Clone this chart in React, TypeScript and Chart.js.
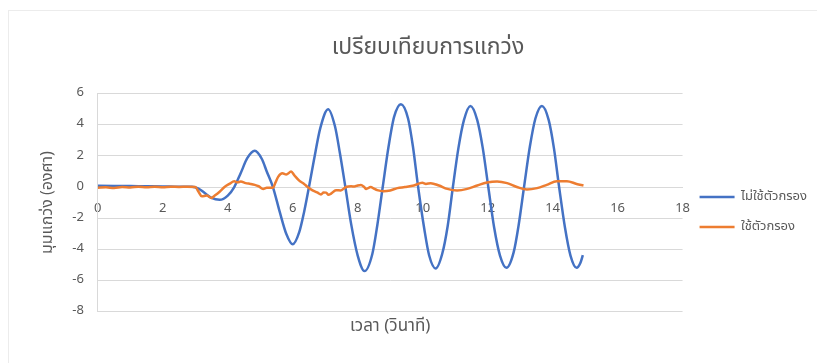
import React, { useEffect, useRef } from "react";
import { Chart, registerables } from "chart.js";

Chart.register(...registerables);

const chartTitle = "เปรียบเทียบการแกว่ง";
const xAxisTitle = "เวลา (วินาที)";
const yAxisTitle = "มุมแกว่ง (องศา)";
const seriesNames = ["ไม่ใช้ตัวกรอง", "ใช้ตัวกรอง"];
const seriesColors = ["#4472C4", "#ED7D31"];

const xTicks = [0, 2, 4, 6, 8, 10, 12, 14, 16, 18];
const yTicks = [-8, -6, -4, -2, 0, 2, 4, 6];

const unfilteredTime = [
  0, 0.5, 1, 1.5, 2, 2.5, 2.9, 3.1, 3.3, 3.5, 3.75, 4.0, 4.2, 4.4, 4.6, 4.83,
  5.05, 5.2, 5.39, 5.6, 5.8, 6.0, 6.2, 6.35, 6.5, 6.65, 6.85, 7.09, 7.3, 7.45,
  7.62, 7.8, 8.0, 8.21, 8.45, 8.6, 8.77, 8.95, 9.12, 9.33, 9.55, 9.7, 9.86,
  10.05, 10.2, 10.4, 10.6, 10.77, 10.93, 11.1, 11.27, 11.47, 11.68, 11.85,
  12.02, 12.2, 12.38, 12.58, 12.8, 12.95, 13.12, 13.3, 13.47, 13.67, 13.88,
  14.04, 14.2, 14.38, 14.55, 14.74, 14.85, 14.93,
];
const unfilteredAngle = [
  0.08, 0.07, 0.06, 0.05, 0.04, 0.02, 0.02, -0.1, -0.4, -0.7, -0.82, -0.55, 0,
  0.9, 1.85, 2.33, 1.8, 1.0, 0, -1.6, -3.0, -3.68, -2.9, -1.6, 0, 1.7, 3.8, 5.0,
  3.9, 2.2, 0, -2.4, -4.4, -5.4, -4.3, -2.5, 0, 2.6, 4.5, 5.32, 4.4, 2.6, 0,
  -2.7, -4.4, -5.23, -4.3, -2.5, 0, 2.5, 4.3, 5.21, 4.3, 2.5, 0, -2.6, -4.4,
  -5.19, -4.2, -2.5, 0, 2.6, 4.4, 5.21, 4.3, 2.5, 0, -2.6, -4.4, -5.19, -4.9,
  -4.38,
];

const filteredTime = [
  0, 0.25, 0.5, 0.75, 1.0, 1.25, 1.5, 1.75, 2.0, 2.25, 2.5, 2.75, 3.0, 3.1, 3.2,
  3.35, 3.5, 3.6, 3.75, 3.9, 4.05, 4.2, 4.3, 4.4, 4.55, 4.7, 4.83, 4.95, 5.09,
  5.2, 5.39, 5.47, 5.55, 5.68, 5.8, 5.95, 6.05, 6.2, 6.35, 6.46, 6.61, 6.75,
  6.87, 6.95, 7.03, 7.1, 7.18, 7.33, 7.48, 7.64, 7.8, 7.9, 8.0, 8.1, 8.2, 8.26,
  8.4, 8.5, 8.6, 8.8, 9.0, 9.22, 9.45, 9.73, 9.99, 10.1, 10.25, 10.5, 10.76,
  11.06, 11.37, 11.68, 11.98, 12.29, 12.6, 12.9, 13.21, 13.52, 13.82, 14.13,
  14.44, 14.74, 14.95,
];
const filteredAngle = [
  -0.05, -0.02, -0.06, 0.0, -0.03, 0.02, -0.02, 0.01, -0.02, 0.02, 0.0, 0.02,
  0.0, -0.3, -0.6, -0.55, -0.7, -0.55, -0.3, 0.0, 0.2, 0.37, 0.3, 0.35, 0.25,
  0.2, 0.14, 0.05, -0.12, -0.05, -0.05, 0.3, 0.65, 0.88, 0.8, 0.99, 0.75, 0.41,
  0.2, 0.0, -0.22, -0.35, -0.48, -0.35, -0.36, -0.5, -0.42, -0.2, -0.22, 0.0,
  0.05, 0.03, 0.1, 0.13, 0.0, -0.12, 0.0, -0.1, -0.2, -0.27, -0.22, -0.07, 0.0,
  0.1, 0.27, 0.2, 0.25, 0.1, -0.12, -0.22, -0.12, 0.1, 0.29, 0.36, 0.25, 0.0,
  -0.16, -0.07, 0.14, 0.37, 0.37, 0.2, 0.1,
];

const FONT = "'Noto Sans Thai', 'Leelawadee UI', Tahoma, 'Noto Sans', 'DejaVu Sans', sans-serif";
const TEXT = "#595959";
const GRID = "#d9d9d9";

const frame = {
  id: "frame",
  beforeDraw(chart: any) {
    const ctx = chart.ctx;
    ctx.save();
    ctx.strokeStyle = "#ececec";
    ctx.lineWidth = 1;
    ctx.strokeRect(8.5, 10.5, 900, 400);
    ctx.restore();
  },
};

export default function App() {
  const ref = useRef<HTMLCanvasElement | null>(null);
  useEffect(() => {
    if (!ref.current) return;
    const chart = new Chart(ref.current, {
      type: "scatter",
      data: {
        datasets: [
          {
            label: seriesNames[0],
            data: unfilteredTime.map((t, i) => ({ x: t, y: unfilteredAngle[i] })),
            borderColor: seriesColors[0],
            backgroundColor: seriesColors[0],
            borderWidth: 2.5,
            showLine: true,
            pointRadius: 0,
            cubicInterpolationMode: "monotone",
            order: 2,
          },
          {
            label: seriesNames[1],
            data: filteredTime.map((t, i) => ({ x: t, y: filteredAngle[i] })),
            borderColor: seriesColors[1],
            backgroundColor: seriesColors[1],
            borderWidth: 2.5,
            showLine: true,
            pointRadius: 0,
            cubicInterpolationMode: "monotone",
            order: 1,
          },
        ],
      },
      options: {
        responsive: false,
        animation: false,
        layout: { padding: { left: 39, right: 0, top: 8, bottom: 25 } },
        plugins: {
          title: {
            display: true,
            text: chartTitle,
            color: TEXT,
            font: { size: 23, family: FONT, weight: "normal" },
            padding: { top: 28, bottom: 30 },
          },
          legend: {
            position: "right",
            fullSize: false,
            title: {
              display: true,
              text: " ",
              font: { size: 10, lineHeight: 1.2 },
              padding: { top: 7, bottom: 0 },
            },
            labels: {
              usePointStyle: true,
              pointStyle: "line",
              pointStyleWidth: 35,
              padding: 17,
              color: TEXT,
              font: { size: 13, family: FONT },
              sort: (a: any, b: any) => a.datasetIndex - b.datasetIndex,
            },
          },
          tooltip: { enabled: false },
        },
        scales: {
          x: {
            type: "linear",
            position: { y: 0 },
            min: xTicks[0],
            max: xTicks[xTicks.length - 1],
            afterBuildTicks: (s: any) => {
              s.ticks = xTicks.map((v) => ({ value: v }));
            },
            ticks: { color: TEXT, font: { size: 13, family: FONT }, padding: 15 },
            grid: { display: false, drawTicks: false },
            border: { color: GRID },
          },
          x2: {
            type: "linear",
            position: "bottom",
            min: 0,
            max: 18,
            ticks: { display: false },
            grid: { display: false, drawTicks: false },
            border: { display: false },
            title: {
              display: true,
              text: xAxisTitle,
              color: TEXT,
              font: { size: 17, family: FONT },
              padding: { top: 6, bottom: 0 },
            },
          },
          y: {
            type: "linear",
            min: yTicks[0],
            max: yTicks[yTicks.length - 1],
            afterBuildTicks: (s: any) => {
              s.ticks = yTicks.map((v) => ({ value: v }));
            },
            ticks: { color: TEXT, font: { size: 13, family: FONT }, padding: 14 },
            grid: { color: GRID, drawTicks: false },
            border: { color: GRID },
            title: {
              display: true,
              text: yAxisTitle,
              color: TEXT,
              font: { size: 16, family: FONT },
              padding: { top: 0, bottom: 0 },
            },
          },
        },
      },
      plugins: [frame],
    } as any);
    return () => chart.destroy();
  }, []);
  return (
    <div style={{ position: "absolute", left: 0, top: 0, width: 817, height: 363 }}>
      <canvas ref={ref} width={817} height={363} style={{ width: 817, height: 363 }} />
    </div>
  );
}
